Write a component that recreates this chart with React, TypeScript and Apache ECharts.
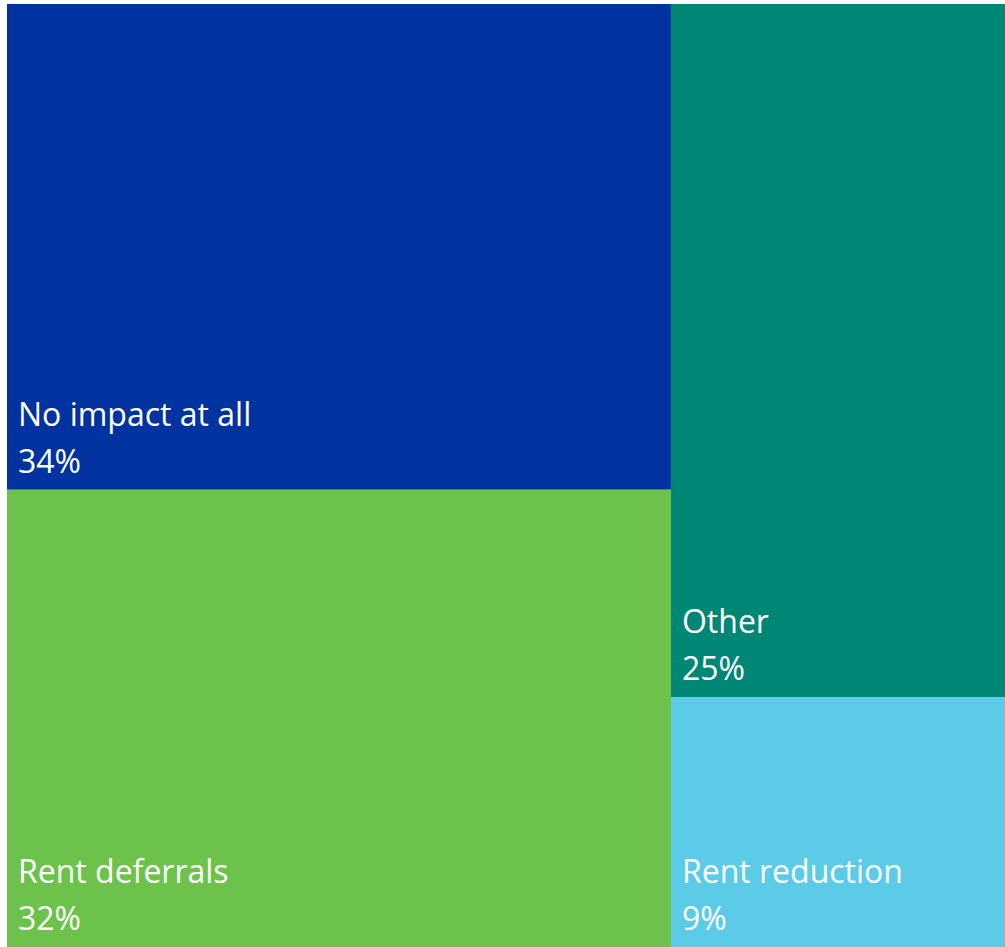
import React, { useEffect, useRef } from "react";
import * as echarts from "echarts";

const categories = ["No impact at all", "Rent deferrals", "Other", "Rent reduction"];
const values = [34, 32, 25, 9];
const colors = ["#0032A0", "#6CC24A", "#008675", "#5BCBE8"];

export default function App() {
  const ref = useRef<HTMLDivElement>(null);
  useEffect(() => {
    if (!ref.current) return;
    const chart = echarts.init(ref.current, null, { renderer: "svg" });
    chart.setOption({
      animation: false,
      series: [
        {
          type: "treemap",
          left: 7,
          top: 4,
          right: -8,
          bottom: 0,
          roam: false,
          nodeClick: false,
          breadcrumb: { show: false },
          itemStyle: { borderWidth: 0, gapWidth: 0 },
          emphasis: { disabled: true },
          label: {
            show: true,
            position: "insideBottomLeft",
            color: "#ffffff",
            fontFamily: "Open Sans",
            fontSize: 32,
            lineHeight: 47,
            padding: [0, 0, 6, 11],
            formatter: (p: any) => `${p.name}\n${p.value}%`,
          },
          data: categories.map((c, i) => ({
            name: c,
            value: values[i],
            itemStyle: { color: colors[i] },
          })),
        },
      ],
    });
    return () => chart.dispose();
  }, []);
  return (
    <div
      ref={ref}
      style={{ position: "absolute", left: 0, top: 0, width: 1005, height: 947, overflow: "hidden" }}
    />
  );
}
